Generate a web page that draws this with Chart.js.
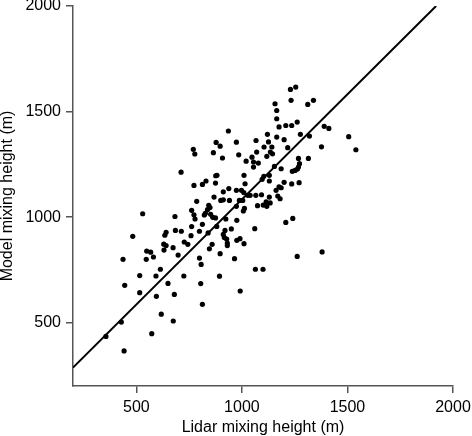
<!DOCTYPE html>
<html>
<head>
<meta charset="utf-8">
<script src="https://cdn.jsdelivr.net/npm/chart.js@4"></script>
<style>
  html, body { margin: 0; padding: 0; background: #fff; }
  #wrap { width: 472px; height: 436px; }
</style>
</head>
<body>
<div id="wrap"><canvas id="mixChart"></canvas></div>
<script>
// lidar (x) and model (y) mixing heights, metres
const lidarHeight = [
  712, 530, 683, 483, 641, 635, 685, 713, 630, 641, 727, 744, 674, 631, 549, 568, 547, 581, 698, 437,
  614, 516, 593, 725, 650, 445, 516, 680, 595, 618, 675, 429, 573, 356, 442, 762, 759,
  936, 770, 777, 878, 897, 974, 1067, 1105, 865, 908, 985, 1070, 1048, 1055, 1055, 1020, 1078, 773, 813, 830,
  876, 882, 875, 1010, 1104, 1096, 1015, 912, 938, 974, 998, 868, 1009, 1028, 1039, 1066, 1093, 786, 900, 912,
  941, 988, 1004, 843, 849, 837, 974, 1012, 1007, 1074, 1101, 762, 773, 778, 827, 822, 852, 862, 875, 813,
  924, 976, 881, 799, 920, 950, 912, 917, 928, 840, 931, 931, 976, 991, 1010, 1061, 859, 846, 897, 965,
  799, 807, 1064, 1100, 894, 805, 992, 813,
  1230, 1255, 1233, 1157, 1165, 1312, 1339, 1165, 1176, 1208, 1236, 1262, 1121, 1126, 1165, 1200, 1277, 1320, 1390, 1412,
  1506, 1540, 1142, 1135, 1145, 1118, 1217, 1377, 1268, 1315, 1273, 1154, 1186, 1239, 1252, 1263, 1268, 1130, 1130, 1200,
  1236, 1271, 1176, 1186, 1162, 1130, 1170, 1181, 1115, 1134, 1118, 1208, 1241, 1262, 1380
];
const modelHeight = [
  1213, 1016, 1003, 909, 928, 914, 937, 933, 872, 865, 882, 871, 855, 844, 839, 834, 800, 811, 820, 800,
  753, 723, 721, 721, 686, 677, 642, 634, 625, 540, 508, 503, 448, 435, 366, 955, 912,
  1408, 1321, 1299, 1354, 1336, 1355, 1363, 1332, 1305, 1280, 1295, 1308, 1284, 1261, 1237, 1265, 1256, 1150, 1155, 1171,
  1196, 1198, 1161, 1198, 1193, 1179, 1158, 1120, 1135, 1127, 1127, 1095, 1116, 1103, 1103, 1103, 1106, 1075, 1079, 1082,
  1079, 1079, 1079, 1056, 1045, 1035, 1051, 1041, 1029, 1054, 1057, 1032, 1011, 991, 1018, 1010, 1013, 999, 996, 966,
  991, 985, 956, 933, 937, 944, 918, 903, 896, 925, 877, 865, 890, 898, 874, 945, 871, 850, 827, 803,
  806, 776, 753, 753, 720, 685, 650, 587,
  1605, 1616, 1553, 1537, 1505, 1534, 1553, 1466, 1427, 1434, 1434, 1450, 1392, 1356, 1379, 1367, 1392, 1384, 1430, 1420,
  1381, 1319, 1332, 1308, 1300, 1288, 1329, 1333, 1278, 1278, 1253, 1240, 1229, 1217, 1221, 1228, 1237, 1198, 1171, 1165,
  1157, 1163, 1143, 1139, 1127, 1095, 1100, 1087, 1072, 1067, 1051, 975, 994, 814, 835
];
// straight reference line drawn across the plot
const lineX = [200, 1920];
const lineY = [287, 2000];
const xTicks = [500, 1000, 1500, 2000];
const yTicks = [500, 1000, 1500, 2000];

const FONT = '"Liberation Sans", Arial, Helvetica, sans-serif';
const AXIS_COLOR = '#555';

function axis(title, ticks, horizontal) {
  return {
    type: 'linear',
    min: 200,
    max: 2000,
    afterBuildTicks: (scale) => { scale.ticks = ticks.map(v => ({ value: v })); },
    afterFit: (scale) => {
      if (horizontal) {
        scale.height = 50;
        scale.paddingLeft = 0;
        scale.paddingRight = 0;
      } else {
        scale.width = 73;
        scale.paddingTop = 0;
        scale.paddingBottom = 0;
      }
    },
    grid: {
      display: true,
      drawOnChartArea: false,
      drawTicks: true,
      tickLength: 7,
      color: AXIS_COLOR,
      lineWidth: 1.5
    },
    border: { display: true, color: AXIS_COLOR, width: 1.5 },
    ticks: {
      color: '#000',
      padding: 5,
      font: { family: FONT, size: 16 },
      callback: (v) => String(v)
    },
    title: {
      display: true,
      text: title,
      color: '#000',
      padding: 0,
      font: { family: FONT, size: 16, lineHeight: 1 }
    }
  };
}

new Chart(document.getElementById('mixChart').getContext('2d'), {
  type: 'scatter',
  data: {
    datasets: [
      {
        type: 'line',
        data: lineX.map((x, i) => ({ x: x, y: lineY[i] })),
        borderColor: '#000',
        borderWidth: 2,
        pointRadius: 0,
        fill: false,
        tension: 0
      },
      {
        data: lidarHeight.map((x, i) => ({ x: x, y: modelHeight[i] })),
        backgroundColor: '#000',
        borderWidth: 0,
        pointRadius: 2.6
      }
    ]
  },
  options: {
    responsive: true,
    maintainAspectRatio: false,
    animation: false,
    layout: { padding: { top: 6, right: 19, left: 0, bottom: 0 } },
    plugins: { legend: { display: false }, tooltip: { enabled: false } },
    scales: {
      x: axis('Lidar mixing height (m)', xTicks, true),
      y: axis('Model mixing height (m)', yTicks, false)
    }
  }
});
</script>
</body>
</html>
